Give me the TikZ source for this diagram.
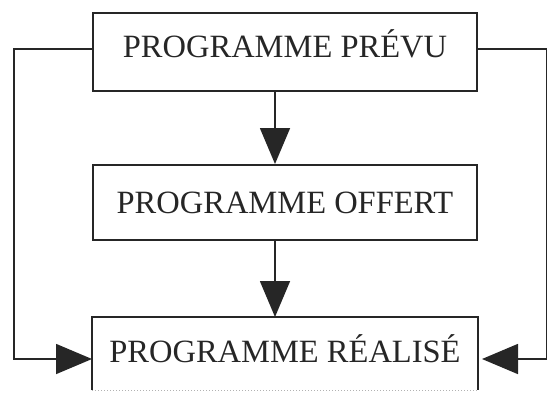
\documentclass[tikz,border=0pt]{standalone}
\usepackage{fontspec}
\setmainfont{Liberation Serif}
\usetikzlibrary{arrows.meta}
\begin{document}
\begin{tikzpicture}[x=1pt,y=-1pt,
  box/.style={draw=black!85, line width=2pt, minimum width=384pt, inner sep=0pt,
    font=\fontsize{32.5}{36}\selectfont, text=black!85, text height=21pt, text depth=0pt},
  conn/.style={draw=black!85, line width=1.6pt},
  tip/.style={-{Triangle[length=36pt,width=30pt]}}]
\useasboundingbox (0,0) rectangle (547,392);
\node[box, minimum height=78pt, text depth=10pt] (prevu) at (285,52) {PROGRAMME PRÉVU};
\node[box, minimum height=75pt] (offert) at (285,202.5) {PROGRAMME OFFERT};
\node[box, draw=none, minimum height=71pt, text depth=3pt] (realise) at (285,353.5) {PROGRAMME RÉALISÉ};
\draw[black!85, line width=2pt] (realise.south west) -- (realise.north west) -- (realise.north east) -- (realise.south east);
\draw[black!30, line width=1pt, dotted] (realise.south west) -- (realise.south east);
\coordinate (L1) at (14,49);
\coordinate (L2) at (14,359);
\coordinate (R1) at (547,49);
\coordinate (R2) at (547,359);
\draw[conn, tip] ([xshift=-10pt]prevu.south) -- ([xshift=-10pt]offert.north);
\draw[conn, tip] ([xshift=-10pt]offert.south) -- ([xshift=-10pt]realise.north);
\draw[conn, tip] ([yshift=3pt]prevu.west) -- (L1) -- (L2) -- ([yshift=-5.5pt]realise.west);
\draw[conn, tip] ([yshift=3pt]prevu.east) -- (R1) -- (R2) -- ([yshift=-5.5pt,xshift=4pt]realise.east);
\end{tikzpicture}
\end{document}
